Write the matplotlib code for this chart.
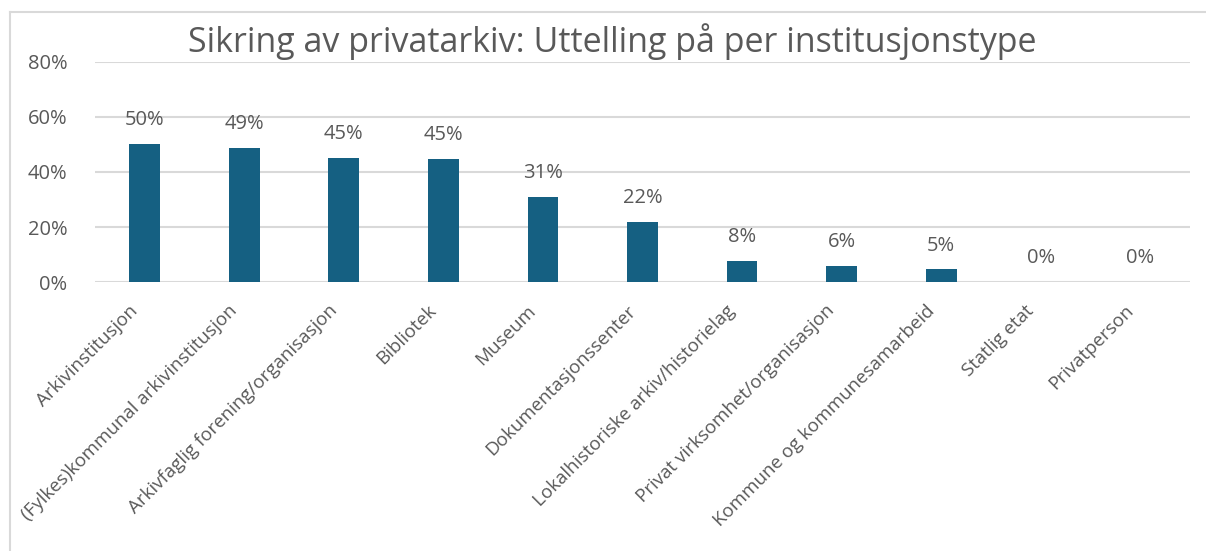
import matplotlib.pyplot as plt
from matplotlib.lines import Line2D
from matplotlib.transforms import ScaledTranslation

plt.rcParams['font.family'] = ['Open Sans', 'DejaVu Sans']

categories = ['Arkivinstitusjon', '(Fylkes)kommunal arkivinstitusjon',
              'Arkivfaglig forening/organisasjon', 'Bibliotek', 'Museum',
              'Dokumentasjonssenter', 'Lokalhistoriske arkiv/historielag',
              'Privat virksomhet/organisasjon', 'Kommune og kommunesamarbeid',
              'Statlig etat', 'Privatperson']
values = [50.2, 48.6, 45.0, 44.6, 31.0, 22.0, 7.6, 6.0, 4.6, 0.0, 0.0]
yticks = [0, 20, 40, 60, 80]

bar_color = '#156082'
text_color = '#595959'
grid_color = '#D9D9D9'

fig = plt.figure(figsize=(12.06, 5.51), dpi=100)
ax = fig.add_axes([0.0788, 0.488, 0.9079, 0.40])

x = range(len(categories))
ax.bar(x, values, width=0.31, color=bar_color, zorder=3)

for xi, v in zip(x, values):
    ax.annotate(f'{round(v):.0f}%', (xi, v), xytext=(0, 10), textcoords='offset points',
                ha='center', va='bottom', fontsize=14.5, color=text_color)

ax.set_xlim(-0.5, len(categories) - 0.5)
ax.set_ylim(0, 80)
ax.set_yticks(yticks)
ax.set_yticklabels([f'{t}%' for t in yticks], fontsize=14.5, color=text_color)
ax.yaxis.grid(True, color=grid_color, linewidth=1.5, zorder=0)
ax.set_xticks(list(x))
ax.set_xticklabels(categories, rotation=45, ha='right', rotation_mode='anchor',
                   fontsize=13.5, color=text_color)
ax.tick_params(axis='both', length=0)
ax.tick_params(axis='y', pad=20)
ax.tick_params(axis='x', pad=14)
for s in ax.spines.values():
    s.set_visible(False)

shift = ScaledTranslation(-16 / 100, 0, fig.dpi_scale_trans)
for lbl in ax.get_xticklabels():
    lbl.set_transform(lbl.get_transform() + shift)

fig.text(0.508, 0.925, 'Sikring av privatarkiv: Uttelling på per institusjonstype',
         ha='center', va='center', fontsize=24.5, color=text_color)

# chart frame
fig.add_artist(Line2D([10 / 1206, 10 / 1206], [0, 1 - 12 / 551], transform=fig.transFigure,
                      color=grid_color, linewidth=1.5))
fig.add_artist(Line2D([10 / 1206, 1], [1 - 12 / 551, 1 - 12 / 551], transform=fig.transFigure,
                      color=grid_color, linewidth=1.5))

fig.savefig('out.png', dpi=100)
